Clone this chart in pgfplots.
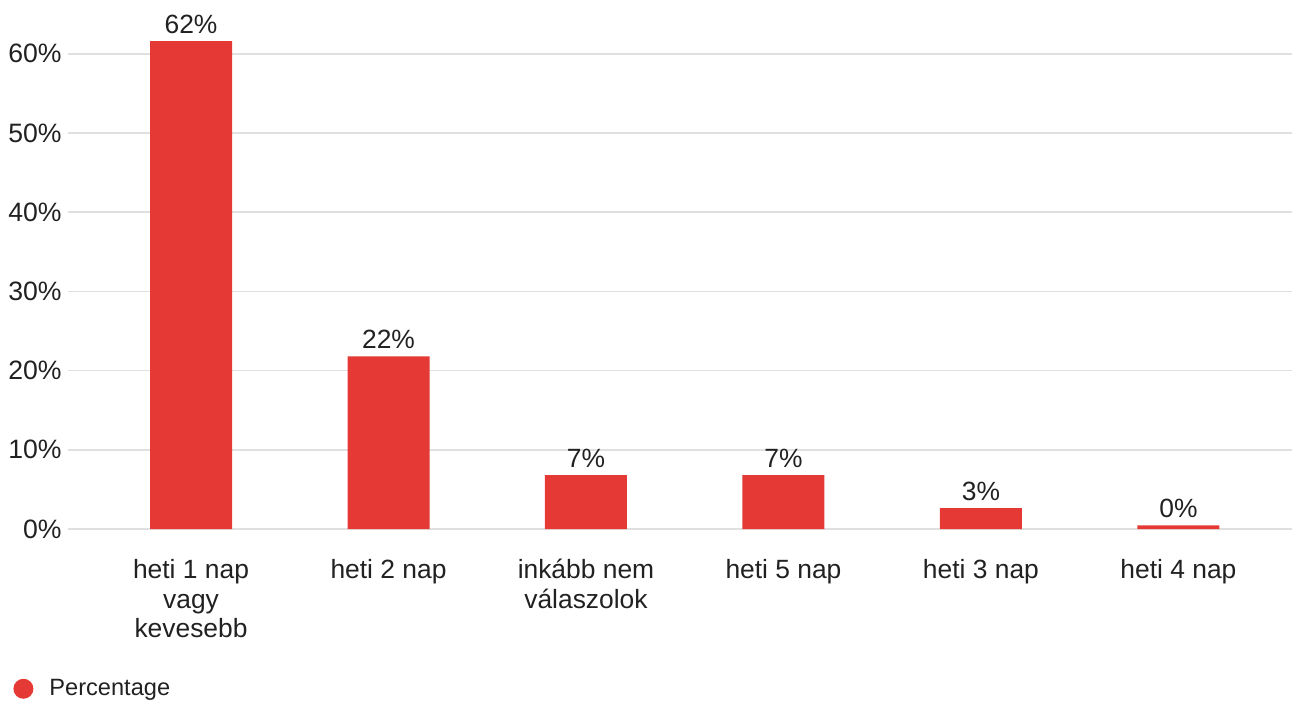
\documentclass[border=0pt]{standalone}
\usepackage{pgfplots}
\pgfplotsset{compat=1.18}
\usepackage{fontspec}
\setmainfont{Liberation Sans}
\definecolor{barred}{RGB}{229,57,53}
\definecolor{txt}{RGB}{33,33,33}
\definecolor{gridc}{RGB}{224,224,224}
\tikzset{
  ylab/.style={anchor=east, text=txt, font=\fontsize{13.3pt}{15pt}\selectfont, inner sep=0pt, xshift=-3pt},
  xlab/.style={anchor=north, align=center, text=txt, font=\fontsize{13.2pt}{14.75pt}\selectfont, inner sep=0pt, yshift=-15pt},
}
\begin{document}
\begin{tikzpicture}[x=0.5pt,y=0.5pt]
\useasboundingbox (-68,-173) rectangle (1224,529);
\begin{axis}[
  at={(0,0)}, anchor=south west,
  scale only axis,
  width=612pt, height=264.5pt,
  xmin=-0.623, xmax=5.575,
  ymin=0, ymax=66.79,
  axis lines=none,
  ybar, bar width=41pt,
  xtick=\empty, ytick=\empty,
  nodes near coords={\pgfmathprintnumber[fixed,precision=0]{\pgfplotspointmeta}\%},
  point meta=explicit,
  every node near coord/.append style={font=\fontsize{13.2pt}{15pt}\selectfont, text=txt, inner sep=3.5pt, /pgf/number format/assume math mode=true},
  clip=false,
  legend style={draw=none, fill=none, at={(axis description cs:-0.0449,-0.302)}, anchor=west, font=\fontsize{11.8pt}{13pt}\selectfont, text=txt, inner sep=0pt},
  legend image code/.code={\fill[barred] (5pt,0pt) circle (5pt);},
  legend cell align=left,
]
\draw[gridc, line width=0.8pt] (axis cs:-0.623,0) -- (axis cs:5.575,0);
\draw[gridc, line width=0.8pt] (axis cs:-0.623,10) -- (axis cs:5.575,10);
\draw[gridc, line width=0.8pt] (axis cs:-0.623,20) -- (axis cs:5.575,20);
\draw[gridc, line width=0.8pt] (axis cs:-0.623,30) -- (axis cs:5.575,30);
\draw[gridc, line width=0.8pt] (axis cs:-0.623,40) -- (axis cs:5.575,40);
\draw[gridc, line width=0.8pt] (axis cs:-0.623,50) -- (axis cs:5.575,50);
\draw[gridc, line width=0.8pt] (axis cs:-0.623,60) -- (axis cs:5.575,60);
\addplot[fill=barred, draw=none] table[x=x, y=y, meta=m] {
x y m
0 61.6 62
1 21.8 22
2 6.8 7
3 6.8 7
4 2.65 3
5 0.45 0
};
\addlegendentry{\hspace{6pt}Percentage}
\node[ylab] at (axis cs:-0.623,0) {0\%};
\node[ylab] at (axis cs:-0.623,10) {10\%};
\node[ylab] at (axis cs:-0.623,20) {20\%};
\node[ylab] at (axis cs:-0.623,30) {30\%};
\node[ylab] at (axis cs:-0.623,40) {40\%};
\node[ylab] at (axis cs:-0.623,50) {50\%};
\node[ylab] at (axis cs:-0.623,60) {60\%};
\node[xlab] at (axis cs:0,0) {heti 1 nap\\vagy\\kevesebb};
\node[xlab] at (axis cs:1,0) {heti 2 nap};
\node[xlab] at (axis cs:2,0) {inkább nem\\válaszolok};
\node[xlab] at (axis cs:3,0) {heti 5 nap};
\node[xlab] at (axis cs:4,0) {heti 3 nap};
\node[xlab] at (axis cs:5,0) {heti 4 nap};
\end{axis}
\end{tikzpicture}
\end{document}
